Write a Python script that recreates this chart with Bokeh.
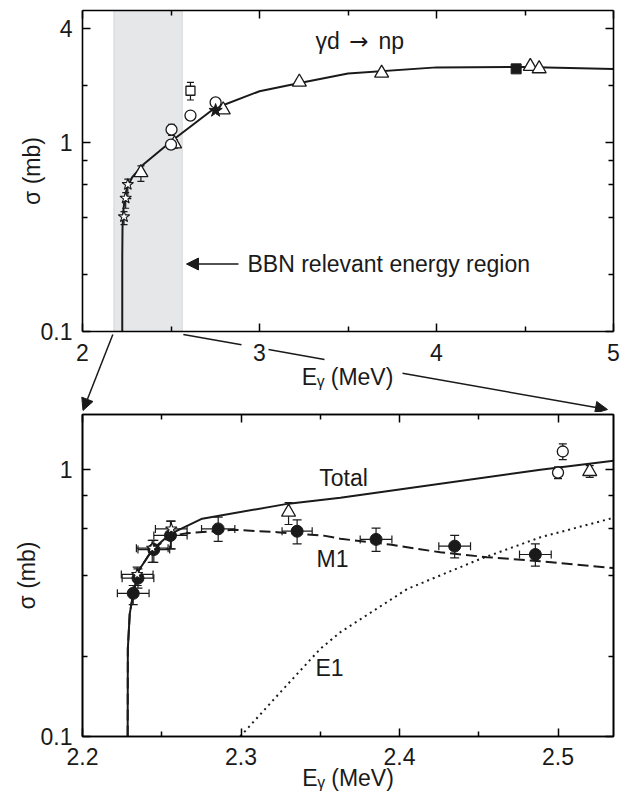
import math
from bokeh.plotting import figure
from bokeh.layouts import column
from bokeh.models import (FixedTicker, CustomJSTickFormatter, LinearAxis, LogAxis, Plot,
                          Whisker, TeeHead, ColumnDataSource, Label, Arrow, NormalHead,
                          BoxAnnotation, Range1d)
from bokeh.embed import file_html
from bokeh.resources import INLINE
from bokeh.core.properties import value

FONT = "Liberation Sans"
FS = "23px"
INK = "#1a1a1a"

# ---------------- data: top panel (gamma d -> n p, 2-5 MeV) ----------------
bbn_region = [2.177, 2.564]

top_total_E = [2.2246, 2.2247, 2.226, 2.230, 2.240, 2.2525, 2.281, 2.347, 2.507, 2.742, 3.0, 3.22, 3.5, 4.0, 4.5, 5.0]
top_total_s = [0.10, 0.25, 0.35, 0.43, 0.52, 0.58, 0.655, 0.77, 1.025, 1.51, 1.87, 2.06, 2.32, 2.50, 2.51, 2.45]

top_tri_E = [2.330, 2.52, 2.795, 3.225, 3.69, 4.53, 4.58]
top_tri_s = [0.693, 0.985, 1.49, 2.09, 2.33, 2.53, 2.46]
top_tri_lo = [0.623, 0.935, 1.44, 2.03, 2.26, 2.46, 2.39]
top_tri_hi = [0.753, 1.035, 1.54, 2.15, 2.40, 2.60, 2.53]

top_circ_E = [2.500, 2.503, 2.610, 2.752]
top_circ_s = [0.975, 1.17, 1.39, 1.63]
top_circ_lo = [0.925, 1.09, 1.36, 1.59]
top_circ_hi = [1.025, 1.25, 1.42, 1.67]

top_sq_E = [2.610]
top_sq_s = [1.88]
top_sq_lo = [1.68]
top_sq_hi = [2.08]

top_fsq_E = [4.45]
top_fsq_s = [2.455]

top_fstar_E = [2.752]
top_fstar_s = [1.477]

star_E = [2.2345, 2.244, 2.256]
star_s = [0.405, 0.508, 0.600]
star_lo = [0.368, 0.449, 0.505]
star_hi = [0.431, 0.543, 0.641]
star_dE = [0.010, 0.010, 0.010]

# ---------------- data: bottom panel (2.2-2.535 MeV) ----------------
bot_total_E = [2.2285, 2.2286, 2.2298, 2.232, 2.2355, 2.244, 2.2555, 2.2755, 2.330, 2.3627, 2.4889, 2.535]
bot_total_s = [0.10, 0.213, 0.288, 0.343, 0.419, 0.501, 0.575, 0.655, 0.746, 0.785, 1.0, 1.08]

m1_E = [2.2285, 2.2286, 2.2298, 2.232, 2.2355, 2.244, 2.2555, 2.266, 2.2955, 2.3228, 2.3522, 2.3627, 2.394, 2.4258, 2.4552, 2.4889, 2.535]
m1_s = [0.10, 0.213, 0.288, 0.343, 0.419, 0.50, 0.565, 0.578, 0.595, 0.583, 0.566, 0.551, 0.524, 0.49, 0.47, 0.454, 0.428]

e1_E = [2.2995, 2.3255, 2.350, 2.3627, 2.4048, 2.451, 2.4889, 2.535]
e1_s = [0.100, 0.148, 0.213, 0.246, 0.357, 0.463, 0.558, 0.66]

fc_E = [2.232, 2.235, 2.245, 2.2555, 2.2856, 2.3354, 2.3852, 2.4348, 2.4857]
fc_s = [0.344, 0.392, 0.502, 0.567, 0.600, 0.588, 0.548, 0.517, 0.481]
fc_lo = [0.312, 0.360, 0.449, 0.505, 0.539, 0.527, 0.494, 0.467, 0.435]
fc_hi = [0.368, 0.425, 0.543, 0.641, 0.664, 0.649, 0.604, 0.567, 0.527]
fc_dE = [0.010, 0.010, 0.010, 0.0105, 0.0105, 0.0095, 0.010, 0.010, 0.010]

bot_tri_E = [2.330, 2.520]
bot_tri_s = [0.693, 0.985]
bot_tri_lo = [0.623, 0.935]
bot_tri_hi = [0.753, 1.035]

bot_circ_E = [2.500, 2.503]
bot_circ_s = [0.975, 1.17]
bot_circ_lo = [0.925, 1.09]
bot_circ_hi = [1.025, 1.25]

top_xticks = [2, 3, 4, 5]
top_xminor = [2.5, 3.5, 4.5]
top_yticks = [0.1, 1, 4]
top_yminor = [0.2, 0.4, 0.6, 0.8, 2]
bot_xticks = [2.2, 2.3, 2.4, 2.5]
bot_xminor = [2.25, 2.35, 2.45]
bot_yticks = [0.1, 1]
bot_yminor = [0.2, 0.4, 0.6, 0.8]

TOP_X = (2.0, 5.0)
TOP_Y = (0.1, 5.0)
BOT_X = (2.2, 2.535)
BOT_Y = (0.1, 1.61)

# ---------------- layout geometry (page pixels, page starts at 0) ----------------
W = 630
FL, FR = 82, 613              # panel frame left / right
T_TOP, T_BOT = 10, 331        # top panel box
TOP_H = 412                   # top figure (panel + connector strip)
B_TOP, B_BOT = 414, 736       # bottom panel frame
BOT_H = 386

kx = (TOP_X[1] - TOP_X[0]) / (FR - FL)
dec_px = (math.log10(TOP_Y[1]) - math.log10(TOP_Y[0])) / (T_BOT - T_TOP)


def tp(px, py):
    x = TOP_X[0] + (px - FL) * kx
    ly = math.log10(TOP_Y[1]) - (py - T_TOP) * dec_px
    return x, 10 ** ly


def bp(px, py):
    x = BOT_X[0] + (px - FL) * (BOT_X[1] - BOT_X[0]) / (FR - FL)
    ly = math.log10(BOT_Y[1]) - (py - B_TOP) * (math.log10(BOT_Y[1]) - math.log10(BOT_Y[0])) / (B_BOT - B_TOP)
    return x, 10 ** ly


fmt = CustomJSTickFormatter(code="return (Math.round(tick*100)/100).toString();")
HAS_FRAME_ALIGN = "frame_align" in Plot.properties()


def style_axis(ax):
    ax.axis_line_color = "black"
    ax.axis_line_width = 1.6
    ax.major_tick_in = 8
    ax.major_tick_out = 0
    ax.minor_tick_in = 5
    ax.minor_tick_out = 0
    ax.major_tick_line_width = 1.5
    ax.minor_tick_line_width = 1.5
    ax.major_tick_line_color = "black"
    ax.minor_tick_line_color = "black"


def label_axis(ax, standoff):
    ax.major_label_text_font = FONT
    ax.major_label_text_font_size = FS
    ax.major_label_text_color = INK
    ax.major_label_standoff = standoff


def hide_labels(ax):
    ax.major_label_text_font_size = "0px"
    ax.major_label_standoff = 0
    ax.major_label_text_color = None


def add_vbars(p, E, lo, hi, size=8):
    src = ColumnDataSource(dict(x=E, lo=lo, hi=hi))
    p.add_layout(Whisker(source=src, base="x", lower="lo", upper="hi", dimension="height",
                         line_color=INK, line_width=1.2,
                         upper_head=TeeHead(size=size, line_width=1.2, line_color=INK),
                         lower_head=TeeHead(size=size, line_width=1.2, line_color=INK)))


def add_hbars(p, E, s, dE, size=8):
    src = ColumnDataSource(dict(y=s, lo=[e - d for e, d in zip(E, dE)], hi=[e + d for e, d in zip(E, dE)]))
    p.add_layout(Whisker(source=src, base="y", lower="lo", upper="hi", dimension="width",
                         line_color=INK, line_width=1.2,
                         upper_head=TeeHead(size=size, line_width=1.2, line_color=INK),
                         lower_head=TeeHead(size=size, line_width=1.2, line_color=INK)))


def add_label(p, x, y, text, size=FS, align="left", baseline="middle", angle=0.0, font=FONT):
    p.add_layout(Label(x=x, y=y, text=text, text_font=font, text_font_size=size,
                       text_align=align, text_baseline=baseline, text_color=INK, angle=angle))


# ================= top panel (with connector strip below it) =================
y_full_top = 10 ** (math.log10(TOP_Y[1]) + T_TOP * dec_px)
y_full_bot = 10 ** (math.log10(TOP_Y[0]) - (TOP_H - T_BOT) * dec_px)
top = figure(width=W, height=TOP_H,
             x_range=Range1d(TOP_X[0] - FL * kx, TOP_X[0] + (W - FL) * kx),
             y_range=Range1d(y_full_bot, y_full_top), y_axis_type="log",
             output_backend="svg", toolbar_location=None,
             min_border=0, min_border_left=0, min_border_right=0,
             min_border_top=0, min_border_bottom=0,
             outline_line_color=None, background_fill_color="white", border_fill_color="white")
if HAS_FRAME_ALIGN:
    top.frame_align = False
top.xgrid.visible = False
top.ygrid.visible = False

t_below = top.below[0]
t_left = top.left[0]
t_below.ticker = FixedTicker(ticks=top_xticks, minor_ticks=top_xminor)
t_left.ticker = FixedTicker(ticks=top_yticks, minor_ticks=top_yminor)
t_below.formatter = fmt
t_left.formatter = fmt
t_below.fixed_location = TOP_Y[0]
t_below.bounds = TOP_X
t_left.fixed_location = TOP_X[0]
t_left.bounds = TOP_Y
t_above = LinearAxis(ticker=FixedTicker(ticks=top_xticks, minor_ticks=top_xminor),
                     fixed_location=TOP_Y[1], bounds=TOP_X)
t_right = LogAxis(ticker=FixedTicker(ticks=top_yticks, minor_ticks=top_yminor),
                  fixed_location=TOP_X[1], bounds=TOP_Y)
top.add_layout(t_above, "above")
top.add_layout(t_right, "right")
for ax in [t_below, t_left, t_above, t_right]:
    style_axis(ax)
label_axis(t_left, 10)
label_axis(t_below, 12)
hide_labels(t_above)
hide_labels(t_right)

top.add_layout(BoxAnnotation(left=bbn_region[0], right=bbn_region[1],
                             bottom=TOP_Y[0], top=TOP_Y[1], fill_color="#e6e7e9",
                             fill_alpha=1.0, line_color="#9a9a9a", line_width=1, level="underlay"))

top.line(top_total_E, top_total_s, line_color=INK, line_width=2)

add_vbars(top, top_tri_E, top_tri_lo, top_tri_hi, 7)
add_vbars(top, top_circ_E, top_circ_lo, top_circ_hi, 7)
add_vbars(top, top_sq_E, top_sq_lo, top_sq_hi, 7)
add_vbars(top, star_E, star_lo, star_hi, 7)

top.scatter(top_tri_E, top_tri_s, marker="triangle", size=14, fill_color="white",
            line_color=INK, line_width=1.3)
top.scatter(top_circ_E, top_circ_s, marker="circle", size=11, fill_color="white",
            line_color=INK, line_width=1.3)
top.scatter(top_sq_E, top_sq_s, marker="square", size=9, fill_color="white",
            line_color=INK, line_width=1.3)
top.scatter(top_fsq_E, top_fsq_s, marker="square", size=10, fill_color=INK,
            line_color=INK, line_width=1)
top.scatter(top_fstar_E, top_fstar_s, marker="star", size=14, fill_color=INK,
            line_color=INK, line_width=1)
top.scatter(star_E, star_s, marker="star", size=12, fill_color="white",
            line_color=INK, line_width=1.1)

# reaction label: gamma d -> n p
x, y = tp(315, 40)
add_label(top, x, y, "γd")
x, y = tp(358.5, 40)
add_label(top, x, y, "→", align="center", font="DejaVu Sans")
x, y = tp(378, 40)
add_label(top, x, y, "np")

x, y = tp(247, 263.5)
add_label(top, x, y, "BBN relevant energy region")
x0, y0 = tp(238, 263.5)
x1, y1 = tp(186, 263.5)
top.add_layout(Arrow(end=NormalHead(size=12, fill_color=INK, line_color=INK),
                     x_start=x0, y_start=y0, x_end=x1, y_end=y1, line_width=1.5, line_color=INK))

# axis titles of the top panel
x, y = tp(31, (T_TOP + T_BOT) / 2)
add_label(top, x, y, "σ (mb)", align="center", angle=math.pi / 2)
x, y = tp(347, 376)
add_label(top, x, y, "Eᵧ (MeV)", align="center")

# zoom connector arrows: BBN band -> corners of the lower panel
lo_px = FL + (bbn_region[0] - TOP_X[0]) / kx
hi_px = FL + (bbn_region[1] - TOP_X[0]) / kx
xa, ya = tp(lo_px - 1, T_BOT + 3)
xb, yb = tp(FL + 0.5, B_TOP - 4)
top.add_layout(Arrow(end=NormalHead(size=12, fill_color=INK, line_color=INK),
                     x_start=xa, y_start=ya, x_end=xb, y_end=yb, line_width=1.5, line_color=INK))

P0 = (hi_px + 1, T_BOT + 3)
P1 = (FR - 6, B_TOP - 5)


def along(px):
    t = (px - P0[0]) / (P1[0] - P0[0])
    return (px, P0[1] + t * (P1[1] - P0[1]))


for a, b in [(P0[0], 241), (268, 324)]:
    xa, ya = tp(*along(a))
    xb, yb = tp(*along(b))
    top.segment([xa], [ya], [xb], [yb], line_color=INK, line_width=1.5)
xa, ya = tp(*along(402))
xb, yb = tp(*P1)
top.add_layout(Arrow(end=NormalHead(size=12, fill_color=INK, line_color=INK),
                     x_start=xa, y_start=ya, x_end=xb, y_end=yb, line_width=1.5, line_color=INK))

# ================= bottom panel =================
bot = figure(width=W, height=BOT_H, x_range=BOT_X, y_range=BOT_Y, y_axis_type="log",
             output_backend="svg", toolbar_location=None,
             min_border_left=FL, min_border_right=W - FR,
             min_border_top=B_TOP - TOP_H, min_border_bottom=BOT_H - (B_BOT - TOP_H),
             background_fill_color="white", border_fill_color="white")
if HAS_FRAME_ALIGN:
    bot.frame_align = False
bot.xgrid.visible = False
bot.ygrid.visible = False
bot.outline_line_color = "black"
bot.outline_line_width = 1.6
b_below = bot.below[0]
b_left = bot.left[0]
b_below.ticker = FixedTicker(ticks=bot_xticks, minor_ticks=bot_xminor)
b_left.ticker = FixedTicker(ticks=bot_yticks, minor_ticks=bot_yminor)
b_below.formatter = fmt
b_left.formatter = fmt
b_above = LinearAxis(ticker=FixedTicker(ticks=bot_xticks, minor_ticks=bot_xminor))
b_right = LogAxis(ticker=FixedTicker(ticks=bot_yticks, minor_ticks=bot_yminor))
bot.add_layout(b_above, "above")
bot.add_layout(b_right, "right")
for ax in [b_below, b_left, b_above, b_right]:
    style_axis(ax)
label_axis(b_left, 10)
label_axis(b_below, 11)
hide_labels(b_above)
hide_labels(b_right)
b_left.axis_label = "σ (mb)"
b_below.axis_label = "Eᵧ (MeV)"
for ax, so in [(b_left, -2), (b_below, -3)]:
    ax.axis_label_text_font = FONT
    ax.axis_label_text_font_size = FS
    ax.axis_label_text_font_style = "normal"
    ax.axis_label_text_color = INK
    ax.axis_label_standoff = so

bot.line(bot_total_E, bot_total_s, line_color=INK, line_width=2)
bot.line(m1_E, m1_s, line_color=INK, line_width=2, line_dash="11 5")
bot.line(e1_E, e1_s, line_color=INK, line_width=2, line_dash="2 4")

add_hbars(bot, fc_E, fc_s, fc_dE, 8)
add_vbars(bot, fc_E, fc_lo, fc_hi, 9)
add_hbars(bot, star_E, star_s, star_dE, 8)
add_vbars(bot, star_E, star_lo, star_hi, 9)
add_vbars(bot, bot_tri_E, bot_tri_lo, bot_tri_hi, 8)
add_vbars(bot, bot_circ_E, bot_circ_lo, bot_circ_hi, 8)

bot.scatter(fc_E, fc_s, marker="circle", size=12, fill_color=INK, line_color=INK)
bot.scatter(star_E, star_s, marker="star", size=12, fill_color="white",
            line_color=INK, line_width=1.1)
bot.scatter(bot_tri_E, bot_tri_s, marker="triangle", size=14, fill_color="white",
            line_color=INK, line_width=1.3)
bot.scatter(bot_circ_E, bot_circ_s, marker="circle", size=11, fill_color="white",
            line_color=INK, line_width=1.3)

x, y = bp(343, 477)
add_label(bot, x, y, "Total", align="center")
x, y = bp(332, 558)
add_label(bot, x, y, "M1", align="center")
x, y = bp(329, 667)
add_label(bot, x, y, "E1", align="center")

layout = column(top, bot, spacing=0)
open("out.html", "w").write(file_html(layout, INLINE))
